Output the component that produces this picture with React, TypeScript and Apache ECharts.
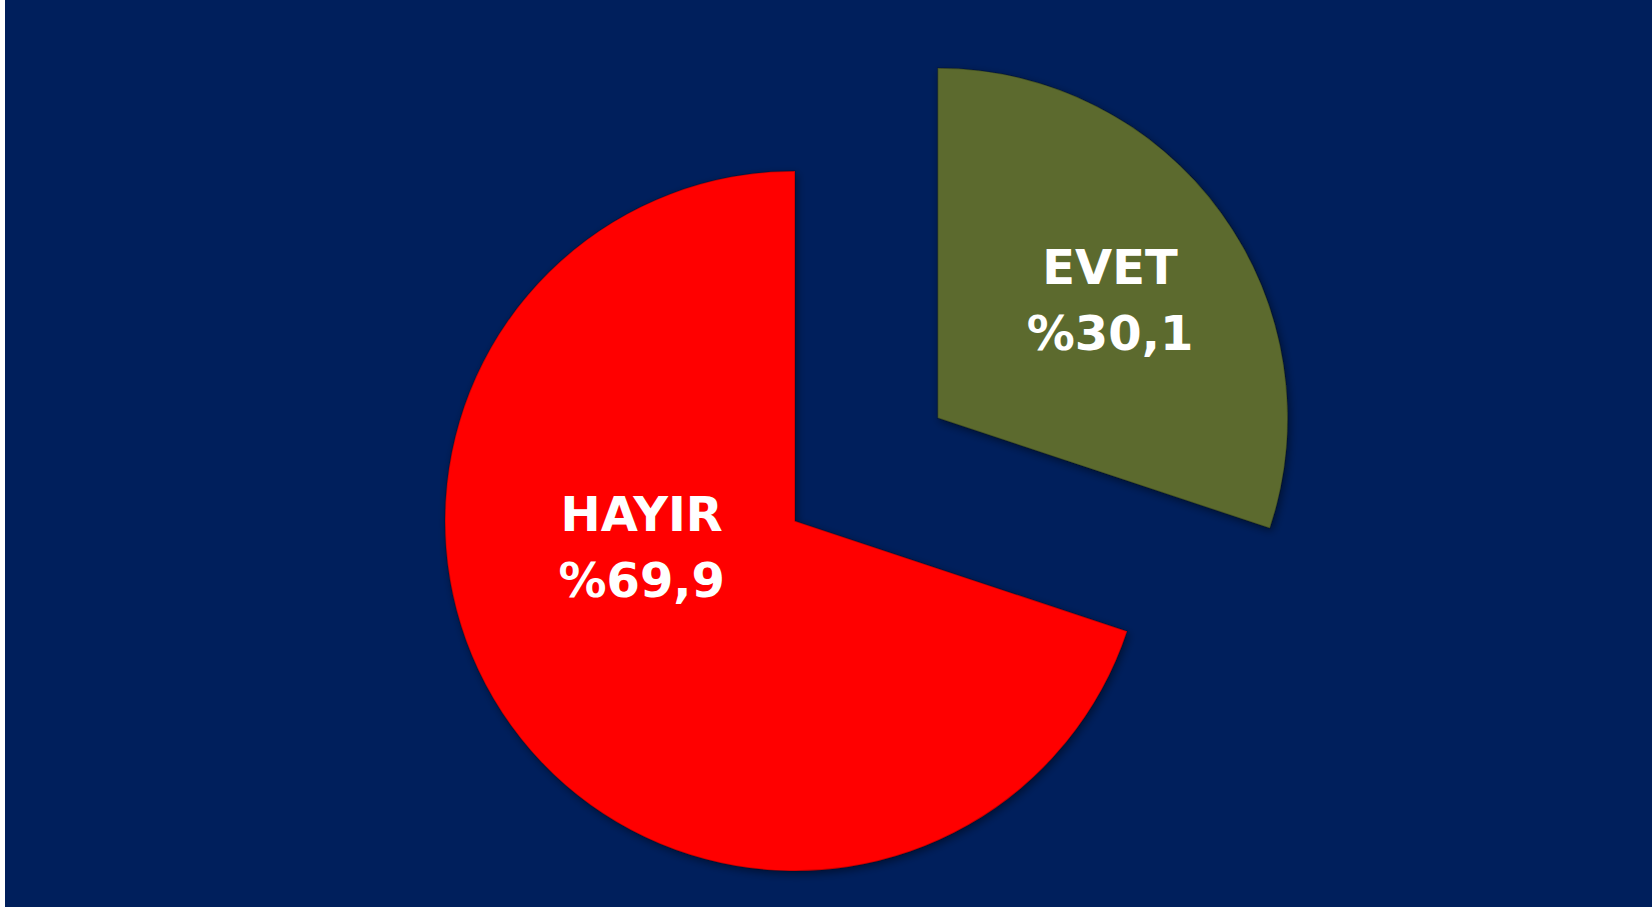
import React, { useEffect, useRef } from 'react';
import * as echarts from 'echarts';

const categories = ['EVET', 'HAYIR'];
const values = [30.1, 69.9];
const sliceColors = ['#5B6B2E', '#FF0505'];
const labelShift = [[28, -14], [-9, -78]];

export default function App() {
  const ref = useRef<HTMLDivElement>(null);
  useEffect(() => {
    document.body.style.margin = '0';
    document.body.style.background = '#ffffff';
    const chart = echarts.init(ref.current!, null, { renderer: 'svg' });
    const edge = {
      borderWidth: 1.5,
      borderColor: 'rgba(0,0,0,0.22)',
      shadowBlur: 8,
      shadowColor: 'rgba(0,0,0,0.45)',
      shadowOffsetX: 2,
      shadowOffsetY: 3,
    };
    chart.setOption({
      animation: false,
      backgroundColor: '#001F5C',
      series: [
        {
          type: 'pie',
          center: [790, 521],
          radius: 350,
          startAngle: 90,
          clockwise: true,
          selectedMode: 'single',
          selectedOffset: 176,
          avoidLabelOverlap: false,
          label: {
            show: true,
            position: 'inside',
            formatter: (p: any) => `${p.name}\n%${String(p.value).replace('.', ',')}`,
            color: '#ffffff',
            fontFamily: '"DejaVu Sans", sans-serif',
            fontWeight: 'bold',
            fontSize: 48,
            lineHeight: 66,
          },
          labelLine: { show: false },
          labelLayout: (params: any) => ({
            dx: labelShift[params.dataIndex][0],
            dy: labelShift[params.dataIndex][1],
          }),
          emphasis: { disabled: true },
          itemStyle: edge,
          select: { itemStyle: edge },
          data: categories.map((name, i) => ({
            name,
            value: values[i],
            selected: i === 0,
            itemStyle: { color: sliceColors[i] },
          })),
        },
      ],
    });
    return () => chart.dispose();
  }, []);
  return (
    <div style={{ width: 1652, height: 908, background: '#ffffff', position: 'relative' }}>
      <div ref={ref} style={{ position: 'absolute', left: 5, top: 0, width: 1647, height: 907 }} />
    </div>
  );
}
